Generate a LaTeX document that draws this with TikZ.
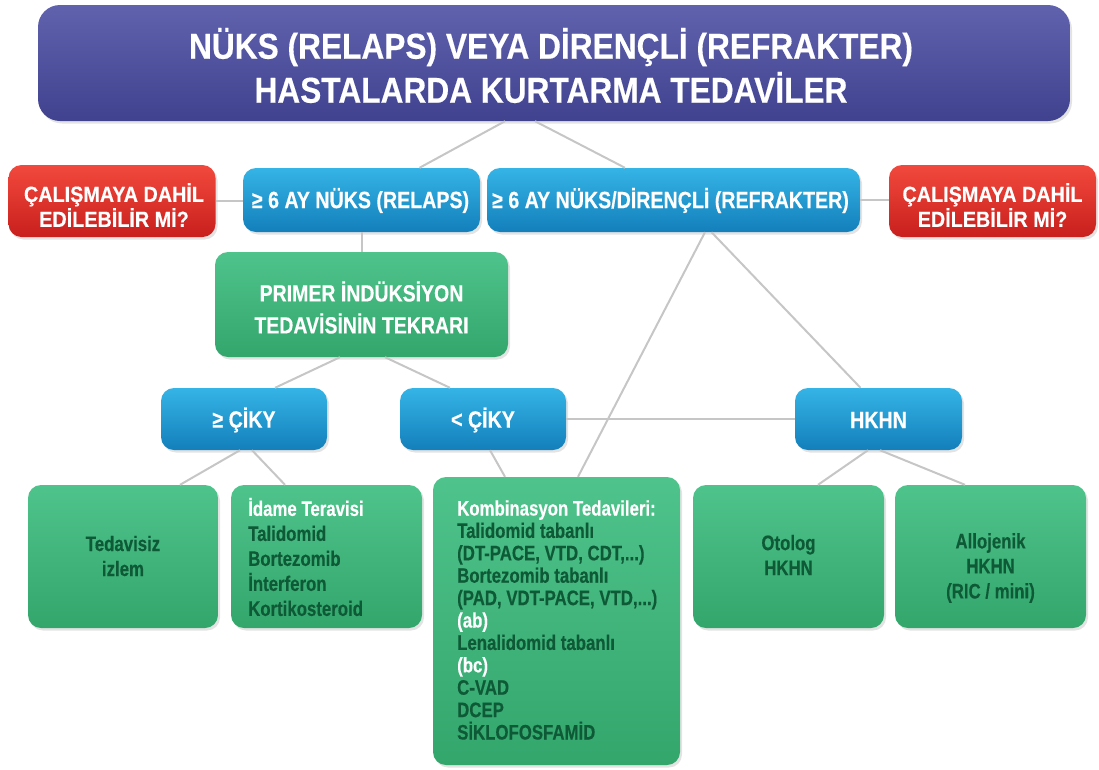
\documentclass[tikz,border=0pt]{standalone}
\usepackage{fontspec}
\newfontfamily\cf[FakeStretch=0.8,FakeBold=0.3]{Liberation Sans}
\newfontfamily\cfp[FakeStretch=0.83,FakeBold=0.3]{Liberation Sans}
\newfontfamily\cfw[FakeStretch=0.835,FakeBold=0.3]{Liberation Sans}
\newfontfamily\cft[FakeStretch=0.88,FakeBold=0.3]{Liberation Sans}
\newfontfamily\cfr[FakeStretch=0.9,FakeBold=0.3]{Liberation Sans}
\usetikzlibrary{calc,shadows}
\definecolor{titleA}{HTML}{6062AE}
\definecolor{titleB}{HTML}{40428F}
\definecolor{blueA}{HTML}{35B4E6}
\definecolor{blueB}{HTML}{137FBB}
\definecolor{redA}{HTML}{F2493D}
\definecolor{redB}{HTML}{C91F1D}
\definecolor{greenA}{HTML}{4EC38B}
\definecolor{greenB}{HTML}{33A66C}
\definecolor{gtext}{HTML}{0E5A36}
\definecolor{conncol}{HTML}{C6C6C6}
\begin{document}
\begin{tikzpicture}[x=1pt,y=-1pt,
  base/.style={rounded corners=13pt, draw=none, inner sep=0pt,
    drop shadow={opacity=0.22, shadow xshift=2pt, shadow yshift=-2.5pt}},
  titlebox/.style={base, rounded corners=22pt, top color=titleA, bottom color=titleB},
  bluebox/.style={base, top color=blueA, bottom color=blueB},
  redbox/.style={base, top color=redA, bottom color=redB},
  greenbox/.style={base, top color=greenA, bottom color=greenB},
  wtxt/.style={text=white, align=center, inner sep=0pt},
  bluetxt/.style={wtxt, font=\cfw\bfseries\fontsize{23.5}{27}\selectfont},
  redtxt/.style={wtxt, font=\cfr\bfseries\fontsize{22}{25}\selectfont},
  gtxt/.style={text=gtext, align=center, inner sep=0pt, font=\cf\bfseries\fontsize{21}{25}\selectfont},
  conn/.style={draw=conncol, line width=2pt}
]
\useasboundingbox (0,0) rectangle (1099,769);

% boxes
\node[titlebox, minimum width=1032pt, minimum height=116pt] (title) at (554,63) {};
\node[redbox, minimum width=207pt, minimum height=72pt] (redL) at (112,201) {};
\node[bluebox, minimum width=237pt, minimum height=64pt] (b1) at (361.5,200) {};
\node[bluebox, minimum width=373pt, minimum height=64pt] (b2) at (673.5,200) {};
\node[redbox, minimum width=207pt, minimum height=72pt] (redR) at (992.5,201) {};
\node[greenbox, minimum width=293pt, minimum height=105pt] (primer) at (361.5,304.5) {};
\node[bluebox, minimum width=166pt, minimum height=62pt] (c1) at (244,419) {};
\node[bluebox, minimum width=166pt, minimum height=62pt] (c2) at (483,419) {};
\node[bluebox, minimum width=167pt, minimum height=62pt] (hkhn) at (878.5,419) {};
\node[greenbox, minimum width=190pt, minimum height=143pt] (ted) at (123,556.5) {};
\node[greenbox, minimum width=191pt, minimum height=143pt] (idame) at (326.5,556.5) {};
\node[greenbox, minimum width=247pt, minimum height=288pt] (komb) at (556.5,621) {};
\node[greenbox, minimum width=191pt, minimum height=143pt] (otolog) at (788.5,556.5) {};
\node[greenbox, minimum width=191pt, minimum height=143pt] (allo) at (990.5,556.5) {};

% texts
\node[wtxt, font=\cft\bfseries\fontsize{36}{44}\selectfont] (titletxt) at (551,65.5)
  {NÜKS (RELAPS) VEYA DİRENÇLİ (REFRAKTER)\\HASTALARDA KURTARMA TEDAVİLER};
\node[redtxt] (redLtxt) at (114,205) {ÇALIŞMAYA DAHİL\\EDİLEBİLİR Mİ?};
\node[redtxt] (redRtxt) at (992.5,205) {ÇALIŞMAYA DAHİL\\EDİLEBİLİR Mİ?};
\node[bluetxt] (b1txt) at (360.5,200.5) {≥ 6 AY NÜKS (RELAPS)};
\node[bluetxt] (b2txt) at (670.5,200.5) {≥ 6 AY NÜKS/DİRENÇLİ (REFRAKTER)};
\node[wtxt, font=\cfp\bfseries\fontsize{23.5}{32}\selectfont] (primertxt) at (361.5,307.5)
  {PRIMER İNDÜKSİYON\\TEDAVİSİNİN TEKRARI};
\node[bluetxt] (c1txt) at (244,420) {≥ ÇİKY};
\node[bluetxt] (c2txt) at (483,420) {< ÇİKY};
\node[bluetxt] (hkhntxt) at (878.5,420) {HKHN};
\node[gtxt] (tedtxt) at (123,556) {Tedavisiz\\izlem};
\node[gtxt, align=left, anchor=west] (idametxt) at (248,557)
  {\textcolor{white}{İdame Teravisi}\\Talidomid\\Bortezomib\\İnterferon\\Kortikosteroid};
\node[gtxt, align=left, anchor=west, font=\cf\bfseries\fontsize{21}{22.4}\selectfont] (kombtxt) at (457,620)
  {\textcolor{white}{Kombinasyon Tedavileri:}\\Talidomid tabanlı\\(DT-PACE, VTD, CDT,...)\\Bortezomib tabanlı\\(PAD, VDT-PACE, VTD,...)\\\textcolor{white}{(ab)}\\Lenalidomid tabanlı\\\textcolor{white}{(bc)}\\C-VAD\\DCEP\\SİKLOFOSFAMİD};
\node[gtxt] (otologtxt) at (788.5,555) {Otolog\\HKHN};
\node[gtxt] (allotxt) at (990.5,568) {Allojenik\\HKHN\\(RIC / mini)};

% connectors
\draw[conn] ($(title.south)+(-49,0)$) -- ($(b1.north)+(58,0)$);
\draw[conn] ($(title.south)+(-19,0)$) -- ($(b2.north)+(-48.5,0)$);
\draw[conn] (redL.east) -- (redL.east -| b1.west);
\draw[conn] (b2.east) -- (b2.east -| redR.west);
\draw[conn] (b1.south) -- (primer.north);
\draw[conn] ($(b2.south)+(31.5,0)$) -- ($(komb.north)+(21.5,0)$);
\draw[conn] ($(b2.south)+(38,0)$) -- ($(hkhn.north)+(-18,0)$);
\draw[conn] ($(primer.south)+(-21.5,0)$) -- ($(c1.north)+(31,0)$);
\draw[conn] ($(primer.south)+(23.5,0)$) -- ($(c2.north)+(-33,0)$);
\draw[conn] (c2.east) -- (hkhn.west);
\draw[conn] ($(c1.south)+(-4,0)$) -- ($(ted.north)+(57,0)$);
\draw[conn] ($(c1.south)+(8,0)$) -- ($(idame.north)+(-41.5,0)$);
\draw[conn] ($(c2.south)+(7,0)$) -- ($(komb.north)+(-51.5,0)$);
\draw[conn] ($(hkhn.south)+(-10.5,0)$) -- ($(otolog.north)+(29.5,0)$);
\draw[conn] ($(hkhn.south)+(1.5,0)$) -- ($(allo.north)+(-25.5,0)$);
\end{tikzpicture}
\end{document}
